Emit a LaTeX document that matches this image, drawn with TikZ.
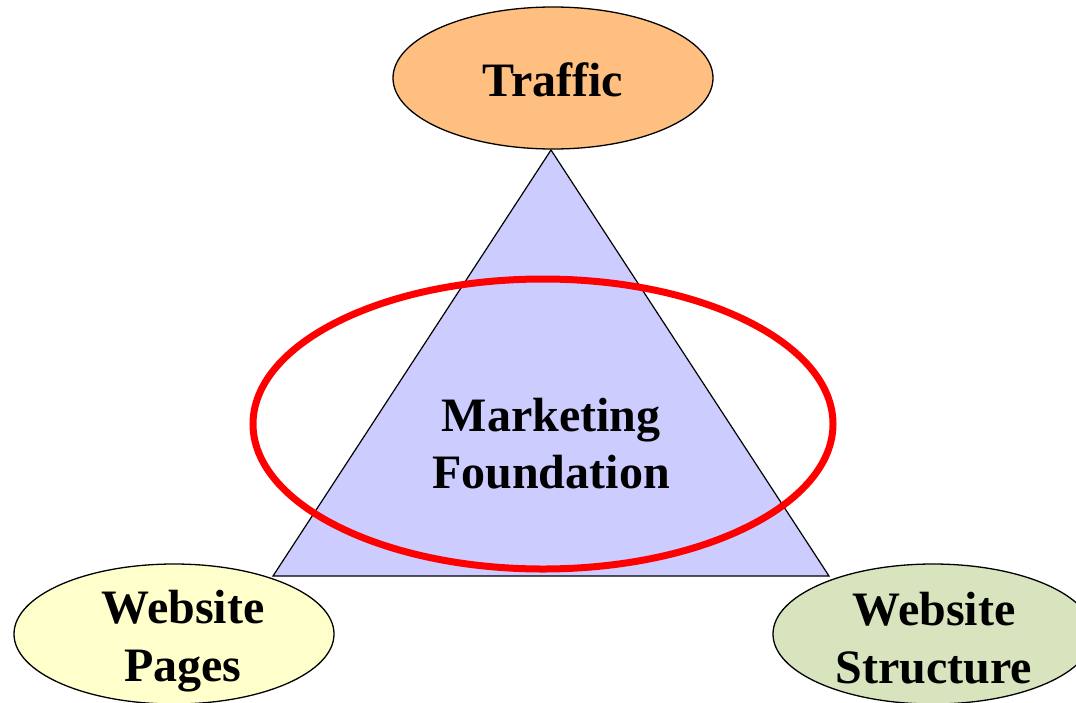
\documentclass[tikz,border=0pt]{standalone}
\usepackage{fontspec}
\setmainfont{Liberation Serif}
\usetikzlibrary{shapes.geometric}
\definecolor{traffic}{RGB}{255,191,128}
\definecolor{tri}{RGB}{204,204,255}
\definecolor{pages}{RGB}{255,255,204}
\definecolor{struct}{RGB}{215,228,189}
\begin{document}
\begin{tikzpicture}[x=1pt,y=-1pt,
  bubble/.style={ellipse, draw=black, line width=1.3pt, inner sep=0pt,
    minimum width=320pt, minimum height=140pt},
  label/.style={align=center, font=\fontsize{48}{58}\selectfont\bfseries, inner sep=0pt}]
\useasboundingbox (0,0) rectangle (1076,702);
% triangle
\coordinate (apex) at (551,150);
\coordinate (bl) at (273,576);
\coordinate (br) at (829,576);
\draw[fill=tri, line width=1.2pt, line join=miter] (apex) -- (bl) -- (br) -- cycle;
% centre text
\node[label, font=\fontsize{48}{57}\selectfont\bfseries] (mf) at (551,444) {Marketing\\Foundation};
% red ellipse
\node[ellipse, draw=red, line width=7pt, minimum width=580pt, minimum height=290pt, inner sep=0pt] (focus) at (543,424) {};
% outer bubbles
\node[bubble, fill=traffic, minimum height=142pt] (traffic) at (553,78) {};
\node[label] (traffictext) at (553,80) {Traffic};
\node[bubble, fill=pages] (pages) at (174,634) {};
\node[label] (pagestext) at (183,641) {Website\\Pages};
\node[bubble, fill=struct] (struct) at (933,634) {};
\node[label] (structtext) at (934,638) {Website\\Structure};
\end{tikzpicture}
\end{document}
